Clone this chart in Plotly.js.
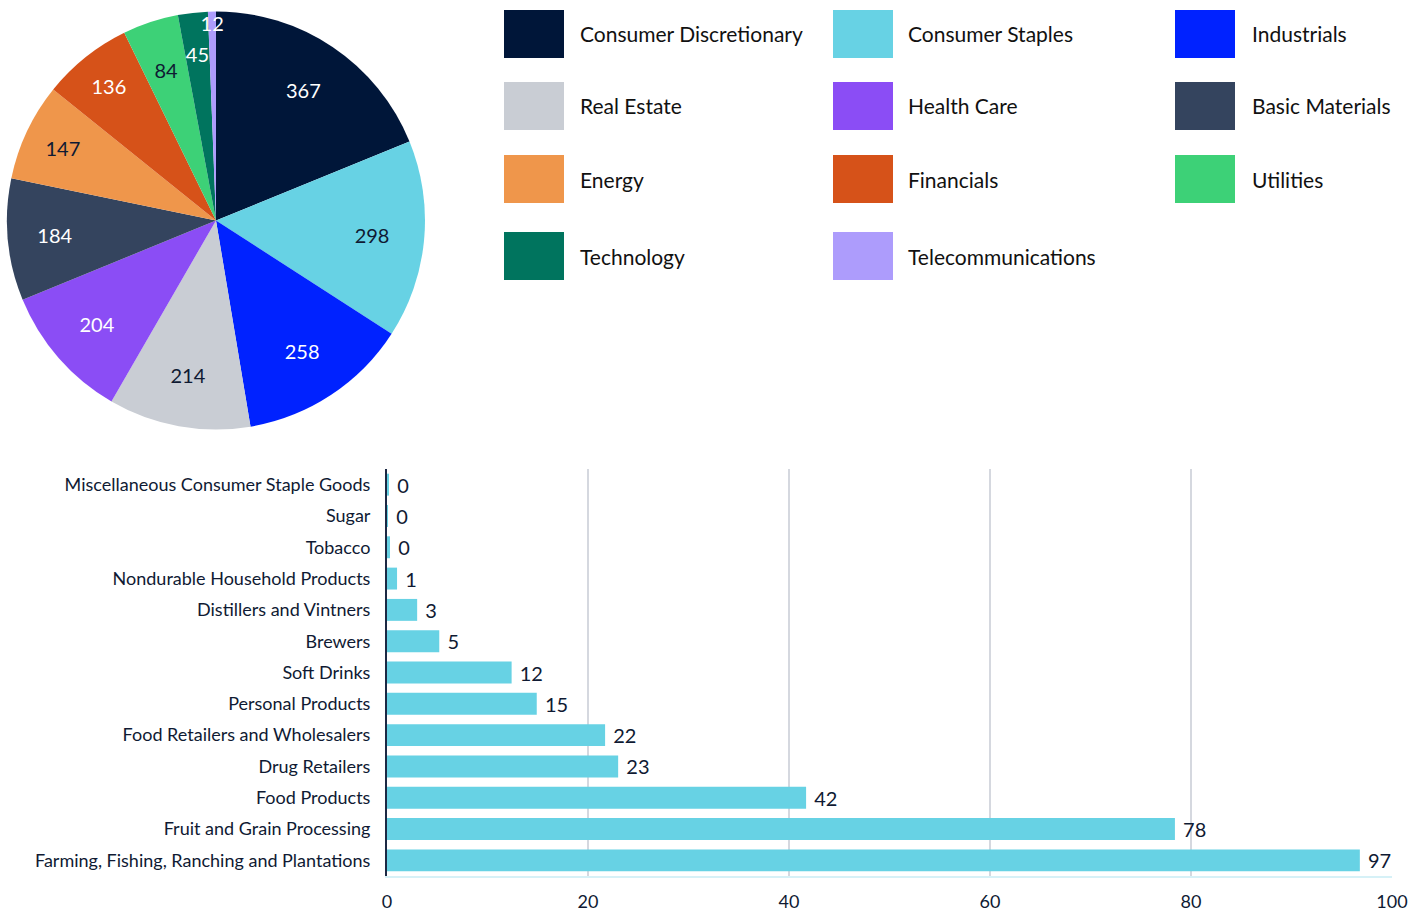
<!DOCTYPE html>
<html>
<head>
<meta charset="utf-8">
<script src="https://cdn.plot.ly/plotly-3.0.1.min.js"></script>
<style>html,body{margin:0;padding:0;background:#fff;}#chart{width:1413px;height:912px;}</style>
</head>
<body>
<div id="chart"></div>
<script>
// ---- Pie data ----
const sectors = ["Consumer Discretionary","Consumer Staples","Industrials","Real Estate","Health Care","Basic Materials","Energy","Financials","Utilities","Technology","Telecommunications"];
const sectorCounts = [367, 298, 258, 214, 204, 184, 147, 136, 84, 45, 12];
const sectorColors = ["#001639","#67d2e4","#0022ff","#c9cdd4","#8b4df5","#34445e","#ef964b","#d65219","#3dd177","#00745e","#ad9cfc"];
const sectorTextColors = ["#ffffff","#0f1a33","#ffffff","#0f1a33","#ffffff","#ffffff","#0f1a33","#ffffff","#0f1a33","#ffffff","#ffffff"];

// ---- Bar data (top to bottom) ----
const industries = ["Miscellaneous Consumer Staple Goods","Sugar","Tobacco","Nondurable Household Products","Distillers and Vintners","Brewers","Soft Drinks","Personal Products","Food Retailers and Wholesalers","Drug Retailers","Food Products","Fruit and Grain Processing","Farming, Fishing, Ranching and Plantations"];
const industryCounts = [0.2, 0.1, 0.3, 1, 3, 5.2, 12.4, 14.9, 21.7, 23, 41.7, 78.4, 96.8];
const industryLabels = ["0","0","0","1","3","5","12","15","22","23","42","78","97"];
const xTicks = [0, 20, 40, 60, 80, 100];

// ---- Legend layout (3 columns, row-major) ----
const legendOrder = ["Consumer Discretionary","Consumer Staples","Industrials","Real Estate","Health Care","Basic Materials","Energy","Financials","Utilities","Technology","Telecommunications"];

const W = 1413, H = 912;
const px = v => v / W;
const py = v => 1 - v / H;

const FONT = "Lato, 'Noto Sans', sans-serif";
const DARK = "#0f1a33";
const CX = 216, CY = 220.5, R = 209;
const domainFor = rad => ({x: [px(CX - rad), px(CX + rad)], y: [py(CY + rad), py(CY - rad)]});

const pie = {
  type: "pie",
  labels: sectors,
  values: sectorCounts,
  sort: false,
  direction: "clockwise",
  rotation: 0,
  marker: {colors: sectorColors, line: {width: 0}},
  textinfo: "none",
  domain: domainFor(R),
  hoverinfo: "label+value",
  showlegend: false
};

// transparent overlays that carry the value labels (placement only)
function labelPie(rad, hole, which) {
  return {
    type: "pie",
    labels: sectors,
    values: sectorCounts,
    sort: false,
    direction: "clockwise",
    rotation: 0,
    hole: hole,
    marker: {colors: sectors.map(() => "rgba(0,0,0,0)"), line: {width: 0}},
    texttemplate: sectors.map((s, i) => which(i) ? "%{value}" : ""),
    textposition: "inside",
    insidetextorientation: "horizontal",
    textfont: {family: FONT, size: 20, color: sectorTextColors},
    domain: domainFor(rad),
    hoverinfo: "skip",
    showlegend: false
  };
}
const bigLabels = labelPie(R, 0.5, i => sectorCounts[i] > 100);
const midLabels = labelPie(180, 0.5, i => sectorCounts[i] > 20 && sectorCounts[i] <= 100);
const tinyLabels = labelPie(201, 0.5, i => sectorCounts[i] <= 20);

const bar = {
  type: "bar",
  orientation: "h",
  y: industries,
  x: industryCounts,
  text: industryLabels,
  texttemplate: "\u00a0%{text}",
  textposition: "outside",
  cliponaxis: false,
  textfont: {family: FONT, size: 18, color: DARK},
  marker: {color: "#67d2e4"},
  xaxis: "x", yaxis: "y",
  showlegend: false
};

// Build custom legend from arrays
const colX = [[504, 578], [833, 906], [1175, 1250]];
const rowY = [34, 106, 179, 256];
const shapes = [];
const annotations = [];
legendOrder.forEach((name, i) => {
  const c = i % 3, r = Math.floor(i / 3);
  const idx = sectors.indexOf(name);
  const x0 = colX[c][0], yc = rowY[r];
  shapes.push({type: "rect", xref: "paper", yref: "paper",
    x0: px(x0), x1: px(x0 + 60), y0: py(yc + 24), y1: py(yc - 24),
    fillcolor: sectorColors[idx], line: {width: 0}});
  annotations.push({xref: "paper", yref: "paper", x: px(colX[c][1]), y: py(yc),
    xanchor: "left", yanchor: "middle", showarrow: false, text: name,
    font: {family: FONT, size: 21, color: "#111111"}});
});

const layout = {
  width: W, height: H,
  margin: {l: 0, r: 0, t: 0, b: 0},
  paper_bgcolor: "#ffffff", plot_bgcolor: "#ffffff",
  font: {family: FONT, color: DARK},
  uniformtext: {mode: "show", minsize: 20},
  bargap: 0.3,
  xaxis: {
    domain: [px(387), px(1392)],
    range: [0, 100],
    tickvals: xTicks,
    ticktext: xTicks.map(String),
    showgrid: true, gridcolor: "#d5d8df", gridwidth: 2,
    zeroline: false,
    showline: true, linecolor: "#d6f1f7", linewidth: 2,
    ticks: "", ticklabelstandoff: 8,
    tickfont: {family: FONT, size: 18, color: DARK},
    anchor: "y"
  },
  yaxis: {
    domain: [py(876), py(469)],
    categoryorder: "array",
    categoryarray: industries.slice().reverse(),
    showgrid: false, zeroline: false,
    showline: true, linecolor: "#1c2944", linewidth: 2,
    ticks: "", ticklabelstandoff: 11,
    tickfont: {family: FONT, size: 18, color: DARK},
    anchor: "x"
  },
  shapes: shapes,
  annotations: annotations
};

Plotly.newPlot("chart", [pie, bigLabels, midLabels, tinyLabels, bar], layout, {displayModeBar: false, staticPlot: true});
</script>
</body>
</html>
